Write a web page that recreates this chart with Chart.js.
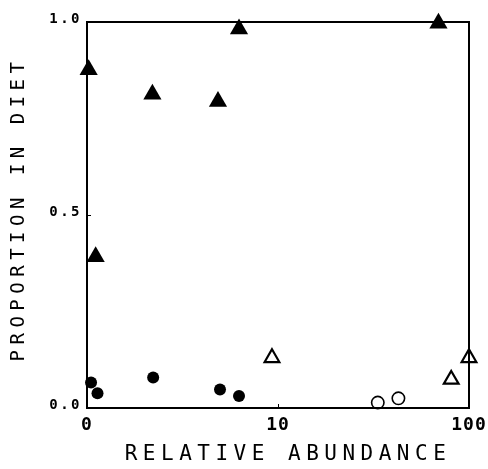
<!DOCTYPE html>
<html>
<head>
<meta charset="utf-8">
<script src="https://cdn.jsdelivr.net/npm/chart.js@4"></script>
<style>
  body { margin: 0; background: #fff; }
</style>
</head>
<body>
<canvas id="myChart" width="488" height="469"></canvas>
<script>
// relative abundance (log axis, 1..100) and proportion in diet
const filledTriX = [1.02, 2.2, 4.85, 6.25, 69.2, 1.11];
const filledTriY = [0.876, 0.813, 0.794, 0.982, 0.997, 0.392];

const filledDotX = [1.05, 1.135, 2.22, 4.97, 6.25];
const filledDotY = [0.066, 0.038, 0.079, 0.048, 0.031];

const openTriX = [9.3, 80.7, 100];
const openTriY = [0.13, 0.074, 0.13];

const openDotX = [33.3, 42.7];
const openDotY = [0.014, 0.025];

const xTickValues = [1, 10, 100];
const xTickLabels = ['0', '10', '100'];
const yTickValues = [0, 0.5, 1];
const yTickLabels = ['0.0', '0.5', '1.0'];

function pts(xs, ys) {
    return xs.map((x, i) => ({ x: x, y: ys[i] }));
}

// canvas letterSpacing for the typewriter look of the titles and ticks,
// plus a small nudge of the titles
const spacing = {
    id: 'spacing',
    beforeDraw(chart) {
        for (const s of Object.values(chart.scales)) {
            if (s._spaced) continue;
            s._spaced = true;
            const wrap = (name, px, dx, dy) => {
                const fn = s[name];
                s[name] = function (...args) {
                    this.ctx.save();
                    this.ctx.letterSpacing = px;
                    this.ctx.translate(dx, dy);
                    fn.apply(this, args);
                    this.ctx.restore();
                };
            };
            if (s.axis === 'x') {
                wrap('drawTitle', '5.5px', 10, 0);
                wrap('drawLabels', '1px', 0, 0);
            } else {
                wrap('drawTitle', '5.5px', 0, -6);
                wrap('drawLabels', '2.5px', 0, -3);
            }
        }
    }
};

const ctx = document.getElementById('myChart').getContext('2d');

const myChart = new Chart(ctx, {
    type: 'scatter',
    data: {
        datasets: [{
            label: 'filled triangles',
            data: pts(filledTriX, filledTriY),
            pointStyle: 'triangle',
            pointRadius: 10.5,
            backgroundColor: '#000',
            borderColor: '#000',
            borderWidth: 0,
            clip: false
        },
        {
            label: 'filled circles',
            data: pts(filledDotX, filledDotY),
            pointStyle: 'circle',
            pointRadius: 6,
            backgroundColor: '#000',
            borderColor: '#000',
            borderWidth: 0,
            clip: false
        },
        {
            label: 'open triangles',
            data: pts(openTriX, openTriY),
            pointStyle: 'triangle',
            pointRadius: 8.5,
            backgroundColor: 'rgba(255,255,255,0)',
            borderColor: '#000',
            borderWidth: 2.2,
            clip: false
        },
        {
            label: 'open circles',
            data: pts(openDotX, openDotY),
            pointStyle: 'circle',
            pointRadius: 6.2,
            backgroundColor: 'rgba(255,255,255,0)',
            borderColor: '#000',
            borderWidth: 1.6,
            clip: false
        }
        ]
    },
    options: {
        responsive: false,
        animation: false,
        layout: { padding: 0 },
        plugins: {
            legend: { display: false },
            tooltip: { enabled: false }
        },
        scales: {
            x: {
                type: 'logarithmic',
                position: 'bottom',
                min: 1,
                max: 100,
                afterBuildTicks: (scale) => {
                    scale.ticks = xTickValues.map(v => ({ value: v }));
                },
                afterFit: (scale) => {
                    scale.height = 61;
                    scale.paddingLeft = 0;
                    scale.paddingRight = 0;
                },
                ticks: {
                    callback: (v) => xTickLabels[xTickValues.indexOf(v)],
                    color: '#000',
                    padding: 11,
                    maxRotation: 0,
                    autoSkip: false,
                    font: { family: 'DejaVu Sans Mono', size: 18, weight: 'bold' }
                },
                grid: { drawOnChartArea: false, drawTicks: true, tickLength: -4, color: '#000', lineWidth: 1 },
                border: { display: true, color: '#000', width: 2 },
                title: {
                    display: true,
                    text: 'RELATIVE ABUNDANCE',
                    color: '#000',
                    padding: { top: 0, bottom: 2 },
                    font: { family: 'DejaVu Sans Mono', size: 21 }
                }
            },
            y: {
                type: 'linear',
                position: 'left',
                min: 0,
                max: 1,
                afterBuildTicks: (scale) => {
                    scale.ticks = yTickValues.map(v => ({ value: v }));
                },
                afterFit: (scale) => { scale.width = 87; },
                ticks: {
                    callback: (v) => yTickLabels[yTickValues.indexOf(v)],
                    color: '#000',
                    padding: 9,
                    font: { family: 'DejaVu Sans Mono', size: 14, weight: 'bold' }
                },
                grid: { drawOnChartArea: false, drawTicks: true, tickLength: -4, color: '#000', lineWidth: 1 },
                border: { display: true, color: '#000', width: 2 },
                title: {
                    display: true,
                    text: 'PROPORTION IN DIET',
                    color: '#000',
                    padding: { top: 8, bottom: 0 },
                    font: { family: 'DejaVu Sans Mono', size: 19 }
                }
            },
            x2: {
                type: 'linear',
                position: 'top',
                min: 0,
                max: 1,
                afterFit: (scale) => { scale.height = 22; },
                ticks: { display: false },
                grid: { display: false },
                border: { display: true, color: '#000', width: 2 }
            },
            y2: {
                type: 'linear',
                position: 'right',
                min: 0,
                max: 1,
                afterFit: (scale) => { scale.width = 19; },
                ticks: { display: false },
                grid: { display: false },
                border: { display: true, color: '#000', width: 2 }
            }
        }
    },
    plugins: [spacing]
});
</script>
</body>
</html>
